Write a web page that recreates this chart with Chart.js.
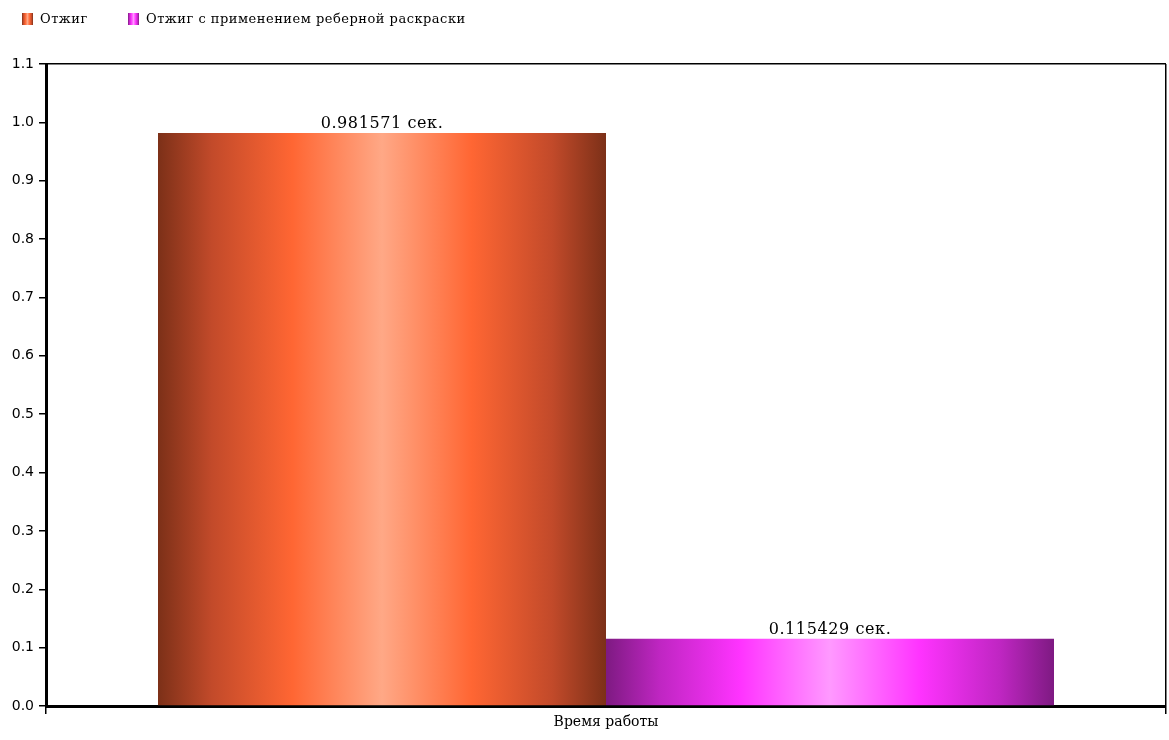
<!DOCTYPE html>
<html lang="ru">
<head>
<meta charset="utf-8">
<title>Время работы</title>
<script src="https://cdn.jsdelivr.net/npm/chart.js@4/dist/chart.umd.min.js"></script>
<style>
  html, body { margin: 0; padding: 0; background: #fff; }
  #wrap { position: relative; width: 1169px; height: 740px; }
  #chart { position: absolute; left: 0; top: 0; }
  #legend { position: absolute; left: 0; top: 0; width: 1169px; height: 30px;
            font-family: "DejaVu Serif", serif; font-size: 13px; letter-spacing: 0.5px; color: #000; }
  .item { position: absolute; top: 11px; display: flex; align-items: center; white-space: nowrap; }
  .box { display: inline-block; width: 11px; height: 12px; margin-right: 7px; }
</style>
</head>
<body>
<div id="wrap">
  <canvas id="chart" width="1169" height="740"></canvas>
  <div id="legend"></div>
</div>
<script>
// Categories and series
const categories = ["Время работы"];
const seriesNames = ["Отжиг", "Отжиг с применением реберной раскраски"];
const annealing = [0.981571];
const annealingEdgeColoring = [0.115429];
const valueUnit = " сек.";

// Y axis ticks
const yMin = 0;
const yMax = 1.1;
const yStep = 0.1;

// Shading stops for the cylinder-like bars (edge -> highlight -> edge)
const shades = [
  ["#7c3018", "#c24a2a", "#ff6633", "#ffa886", "#ff6633", "#c24a2a", "#7c3018"],
  ["#7e1a82", "#bf26c2", "#ff33ff", "#ff99ff", "#ff33ff", "#bf26c2", "#7e1a82"]
];
const shadeOffsets = [0, 0.12, 0.3, 0.5, 0.7, 0.88, 1];

function cssGradient(cols) {
  return "linear-gradient(to right, " +
    cols.map((c, i) => c + " " + (shadeOffsets[i] * 100) + "%").join(", ") + ")";
}

// Legend
const legendEl = document.getElementById("legend");
const legendX = [22, 128];
seriesNames.forEach((name, i) => {
  const item = document.createElement("div");
  item.className = "item";
  item.style.left = legendX[i] + "px";
  const box = document.createElement("span");
  box.className = "box";
  box.style.background = cssGradient(shades[i]);
  const txt = document.createElement("span");
  txt.textContent = name;
  item.appendChild(box);
  item.appendChild(txt);
  legendEl.appendChild(item);
});

// Paints each bar with a horizontal gradient spanning its own width
const barShading = {
  id: "barShading",
  beforeDatasetsDraw(chart) {
    const ctx = chart.ctx;
    chart.data.datasets.forEach((ds, di) => {
      chart.getDatasetMeta(di).data.forEach(el => {
        const half = el.width / 2;
        const g = ctx.createLinearGradient(el.x - half, 0, el.x + half, 0);
        shades[di].forEach((c, k) => g.addColorStop(shadeOffsets[k], c));
        el.options = Object.assign({}, el.options, { backgroundColor: g });
      });
    });
  }
};

// Value captions above each bar
const valueLabels = {
  id: "valueLabels",
  afterDatasetsDraw(chart) {
    const ctx = chart.ctx;
    ctx.save();
    ctx.font = "16px 'DejaVu Serif', serif";
    if ("letterSpacing" in ctx) ctx.letterSpacing = "0.6px";
    ctx.fillStyle = "#000";
    ctx.textAlign = "center";
    ctx.textBaseline = "bottom";
    chart.data.datasets.forEach((ds, di) => {
      chart.getDatasetMeta(di).data.forEach((el, i) => {
        ctx.fillText(String(ds.data[i]) + valueUnit, el.x, el.y - 1);
      });
    });
    ctx.restore();
  }
};

new Chart(document.getElementById("chart"), {
  type: "bar",
  data: {
    labels: categories,
    datasets: [
      { label: seriesNames[0], data: annealing, backgroundColor: shades[0][2], borderWidth: 0 },
      { label: seriesNames[1], data: annealingEdgeColoring, backgroundColor: shades[1][2], borderWidth: 0 }
    ]
  },
  options: {
    responsive: false,
    animation: false,
    categoryPercentage: 0.8,
    barPercentage: 1.0,
    layout: { padding: { top: 64, right: 3, bottom: 0, left: 0 } },
    plugins: {
      legend: { display: false },
      tooltip: { enabled: false },
      title: { display: false }
    },
    scales: {
      x: {
        offset: true,
        grid: {
          display: true,
          drawOnChartArea: true,
          color: "#000",
          lineWidth: 1.5,
          tickLength: 8,
          offset: true
        },
        border: { display: true, color: "#000", width: 3 },
        ticks: {
          color: "#000",
          padding: 0,
          font: { family: "'DejaVu Serif', serif", size: 14 }
        },
        afterFit(scale) { scale.height = 34; }
      },
      y: {
        min: yMin,
        max: yMax,
        grid: {
          drawOnChartArea: true,
          color: c => (c.tick && c.tick.value >= yMax - 1e-9) ? "#000" : "rgba(0,0,0,0)",
          tickColor: "#000",
          lineWidth: 1.5,
          tickLength: 7
        },
        border: { display: true, color: "#000", width: 3 },
        ticks: {
          stepSize: yStep,
          color: "#000",
          padding: 5,
          font: { family: "'DejaVu Sans', sans-serif", size: 14 },
          callback: v => Number(v).toFixed(1)
        },
        afterFit(scale) { scale.width = 46; }
      }
    }
  },
  plugins: [barShading, valueLabels]
});
</script>
</body>
</html>
